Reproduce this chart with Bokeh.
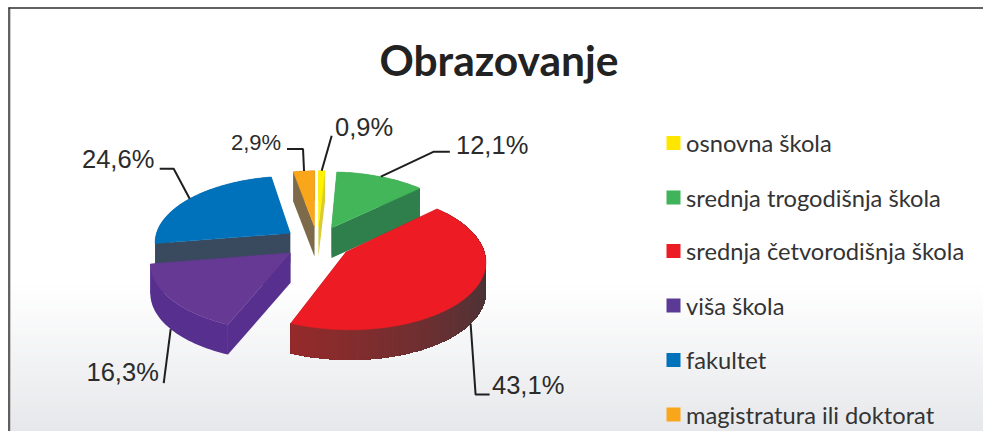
import math
from bokeh.plotting import figure
from bokeh.embed import file_html
from bokeh.resources import INLINE
from bokeh.core.properties import value

# ---- data ----
title_text = "Obrazovanje"
categories = ["osnovna škola", "srednja trogodišnja škola", "srednja četvorodišnja škola",
              "viša škola", "fakultet", "magistratura ili doktorat"]
shares = [0.9, 12.1, 43.1, 16.3, 24.6, 2.9]
share_labels = ["0,9%", "12,1%", "43,1%", "16,3%", "24,6%", "2,9%"]
top_colors = ["#fff200", "#44b65a", "#ed1c24", "#663a94", "#0072bc", "#faa61a"]
wall_colors = ["#d8cc30", "#2e7f4b", "#6a3638", "#57308f", "#3a4a5e", "#7d6a4a"]
legend_colors = ["#ffe600", "#3fb45a", "#ed1c24", "#5b3a96", "#0072bc", "#faa61a"]

# ---- layout ----
W, H = 983, 431
X0, Y0 = 0, 0
FRAME_X, FRAME_Y = 8, 7
CX, CY, RX, RY, K, EXPL, DEPTH = 317, 242, 136, 66, 0.12, 0.25, 30
draw_order = [4, 5, 0, 1, 3, 2]
leader_paths = [[(10, -35)], [(53, -25), (69, -25)], [(5, 71), (19, 71)],
                [(-7, 54)], [(-16, -30), (-30, -30)], [(-1, -22), (-17, -22)]]
leader_from_wall = [False, False, True, True, False, False]
label_x = [334.5, 455.5, 491.5, 86, 81.5, 230.5]
label_y = [126, 144, 384.5, 371.5, 158.5, 142]
label_sizes = ["25.5px", "25.5px", "25.5px", "25.5px", "25.5px", "22px"]
legend_x, legend_text_x, legend_size = 666, 685.5, 14
legend_y = [142.5, 197, 250.5, 305, 359.5, 414]
legend_text_offset = 0


def project(px, py):
    s = 1 / (1 - K * py)
    return CX + RX * px * s, CY + RY * py * s


def rim(i_mid, theta):
    ex = EXPL * math.sin(i_mid)
    ey = -EXPL * math.cos(i_mid)
    return project(ex + math.sin(theta), ey - math.cos(theta))


def lerp_color(c1, c2, t):
    return "#%02x%02x%02x" % tuple(round(a + (b - a) * t) for a, b in zip(c1, c2))


p = figure(width=W, height=H, x_range=(X0, X0 + W), y_range=(Y0 + H, Y0),
           output_backend="svg", toolbar_location=None, min_border=0,
           x_axis_location=None, y_axis_location=None,
           background_fill_color="white", border_fill_color="white", outline_line_color=None)
p.grid.visible = False

# background gradient (only inside the frame)
steps = 40
for n in range(steps):
    y = 285 + (431 - 285) * n / steps
    t = (n + 1) / steps
    p.quad(left=FRAME_X, right=X0 + W, top=y, bottom=Y0 + H,
           fill_color=lerp_color((255, 255, 255), (231, 232, 235), t), line_color=None)

# frame
p.line([FRAME_X + 0.5, FRAME_X + 0.5], [FRAME_Y, Y0 + H], line_color="#3c3c3c", line_width=1.6)
p.line([FRAME_X + 2, FRAME_X + 2], [FRAME_Y + 1, Y0 + H], line_color="#c9c9c9", line_width=1)
p.line([FRAME_X, X0 + W], [FRAME_Y + 0.5, FRAME_Y + 0.5], line_color="#2e2e2e", line_width=1.5)

# pie
total = sum(shares)
starts, ends = [], []
acc = 0.0
for v in shares:
    starts.append(acc / total * 2 * math.pi)
    acc += v
    ends.append(acc / total * 2 * math.pi)

anchors = []
for i in range(len(shares)):
    mid = (starts[i] + ends[i]) / 2
    ax, ay = rim(mid, mid)
    anchors.append((ax, ay + (DEPTH if leader_from_wall[i] else 0)))

for i in draw_order:
    a0, a1 = starts[i], ends[i]
    mid = (a0 + a1) / 2
    apex = project(EXPL * math.sin(mid), -EXPL * math.cos(mid))
    n = max(2, int(math.degrees(a1 - a0) / 1.5))
    thetas = [a0 + (a1 - a0) * k / n for k in range(n + 1)]
    arc = [rim(mid, t) for t in thetas]
    for pt in (arc[0], arc[-1]):
        p.patch([apex[0], pt[0], pt[0], apex[0]], [apex[1], pt[1], pt[1] + DEPTH, apex[1] + DEPTH],
                fill_color=wall_colors[i], line_color=None)
    if i == 2:
        # gradient wall: overlapping bands, each repainting from its angle to the arc's end
        for k in range(n):
            deg = math.degrees(thetas[k])
            t = min(1, max(0, (202 - deg) / 100))
            c = lerp_color((150, 42, 42), (70, 52, 56), t)
            band = arc[k:]
            p.patch([q[0] for q in band] + [q[0] for q in reversed(band)],
                    [q[1] for q in band] + [q[1] + DEPTH for q in reversed(band)],
                    fill_color=c, line_color=None)
    else:
        p.patch([q[0] for q in arc] + [q[0] for q in reversed(arc)],
                [q[1] for q in arc] + [q[1] + DEPTH for q in reversed(arc)],
                fill_color=wall_colors[i], line_color=None)
    p.patch([apex[0]] + [q[0] for q in arc], [apex[1]] + [q[1] for q in arc],
            fill_color=top_colors[i], line_color=top_colors[i], line_width=0.5)

# leaders and labels
for i in range(len(shares)):
    ax, ay = anchors[i]
    p.line([ax] + [ax + d[0] for d in leader_paths[i]], [ay] + [ay + d[1] for d in leader_paths[i]],
           line_color="#1f1f1f", line_width=2)
    p.text([label_x[i]], [label_y[i]], text=[share_labels[i]], text_font=value("Liberation Sans"),
           text_font_size=label_sizes[i], text_color="#2b2b2b", text_baseline="middle", text_align="left")

# title
p.text([498.5], [59], text=[title_text], text_font=value("Lato"), text_font_style="bold",
       text_font_size="42.5px", text_color="#222222", text_baseline="middle", text_align="center")

# legend
for i, name in enumerate(categories):
    y = legend_y[i]
    p.quad(left=legend_x, right=legend_x + legend_size, top=y - legend_size / 2, bottom=y + legend_size / 2,
           fill_color=legend_colors[i], line_color=None)
    p.text([legend_text_x], [y + legend_text_offset], text=[name], text_font=value("Lato"),
           text_font_size="23.7px", text_color="#333333", text_baseline="middle", text_align="left")

open("out.html", "w").write(file_html(p, INLINE))
